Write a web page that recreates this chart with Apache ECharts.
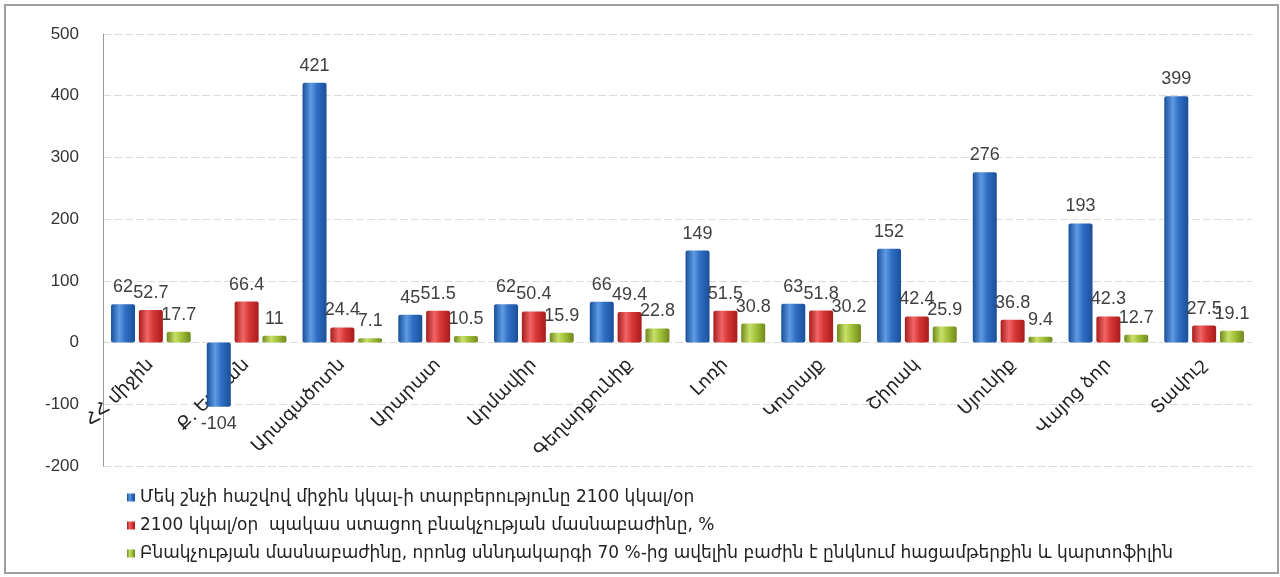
<!DOCTYPE html>
<html>
<head>
<meta charset="utf-8">
<script src="https://cdn.jsdelivr.net/npm/echarts@6/dist/echarts.min.js"></script>
<style>
  html, body { margin: 0; padding: 0; background: #fff; }
  #chart { position: absolute; left: 0; top: 0; width: 1280px; height: 577px; }
  #frame { position: absolute; left: 4px; top: 4px; width: 1271px; height: 566px;
           border: 2px solid #a0a0a0; pointer-events: none; }
</style>
</head>
<body>
<div id="chart"></div>
<div id="frame"></div>
<script>
const regions = ['ՀՀ միջին', 'Ք. Երևան', 'Արագածոտն', 'Արարատ', 'Արմավիր', 'Գեղարքունիք',
  'Լոռի', 'Կոտայք', 'Շիրակ', 'Սյունիք', 'Վայոց ձոր', 'Տավուշ'];

const seriesNames = [
  'Մեկ շնչի հաշվով միջին կկալ-ի տարբերությունը 2100 կկալ/օր',
  '2100 կկալ/օր  պակաս ստացող բնակչության մասնաբաժինը, %',
  'Բնակչության մասնաբաժինը, որոնց սննդակարգի 70 %-ից ավելին բաժին է ընկնում հացամթերքին և կարտոֆիլին'
];

const kcalDiff = [62, -104, 421, 45, 62, 66, 149, 63, 152, 276, 193, 399];
const shareBelow = [52.7, 66.4, 24.4, 51.5, 50.4, 49.4, 51.5, 51.8, 42.4, 36.8, 42.3, 27.5];
const shareBread = [17.7, 11, 7.1, 10.5, 15.9, 22.8, 30.8, 30.2, 25.9, 9.4, 12.7, 19.1];

const yTicks = { min: -200, max: 500, interval: 100 };

const chart = echarts.init(document.getElementById('chart'));

function grad(light, mid, dark) {
  return new echarts.graphic.LinearGradient(0, 0, 1, 0, [
    { offset: 0, color: dark },
    { offset: 0.35, color: light },
    { offset: 0.6, color: mid },
    { offset: 1, color: dark }
  ]);
}

// negative bars get their label below
function withLabels(arr) {
  return arr.map(v => v < 0 ? { value: v, label: { position: 'bottom' } } : v);
}

const labelStyle = {
  show: true,
  position: 'top',
  distance: 8,
  fontFamily: 'Liberation Sans, Arial, sans-serif',
  fontSize: 18,
  color: '#404040'
};

const option = {
  animation: false,
  grid: { left: 103, right: 28, top: 34, bottom: 111 },
  legend: {
    orient: 'vertical',
    left: 122,
    top: 484,
    icon: 'rect',
    itemWidth: 8,
    itemHeight: 8,
    itemGap: 11,
    textStyle: { fontFamily: 'DejaVu Sans, sans-serif', fontSize: 17, color: '#222' },
    data: seriesNames
  },
  xAxis: {
    type: 'category',
    data: regions,
    // labels sit just under the zero line, as in the source
    offset: -124,
    axisLine: { show: false, onZero: false },
    axisTick: { show: false },
    axisLabel: {
      interval: 0,
      rotate: 45,
      margin: 20,
      fontFamily: 'DejaVu Sans, sans-serif',
      fontSize: 18,
      color: '#222'
    }
  },
  yAxis: {
    type: 'value',
    min: yTicks.min,
    max: yTicks.max,
    interval: yTicks.interval,
    axisLine: { show: true, lineStyle: { color: '#9a9a9a' } },
    axisTick: { show: false },
    axisLabel: { margin: 24, fontFamily: 'Liberation Sans, Arial, sans-serif', fontSize: 17, color: '#333' },
    splitLine: { lineStyle: { color: '#dcdcdc', type: [8, 3] } }
  },
  series: [
    {
      name: seriesNames[0], type: 'bar', barWidth: 24, barGap: '16%',
      itemStyle: { color: grad('#5f9be3', '#2f6fc4', '#1a4f9a'), borderRadius: 2 },
      label: labelStyle,
      data: withLabels(kcalDiff)
    },
    {
      name: seriesNames[1], type: 'bar', barWidth: 24, barGap: '16%',
      itemStyle: { color: grad('#f06565', '#d83636', '#a81c1c'), borderRadius: 2 },
      label: labelStyle,
      data: withLabels(shareBelow)
    },
    {
      name: seriesNames[2], type: 'bar', barWidth: 24, barGap: '16%',
      itemStyle: { color: grad('#c8e06a', '#a4c23c', '#6f8a1c'), borderRadius: 2 },
      label: labelStyle,
      data: withLabels(shareBread)
    }
  ]
};

chart.setOption(option);
window.addEventListener('resize', () => chart.resize());
</script>
</body>
</html>
